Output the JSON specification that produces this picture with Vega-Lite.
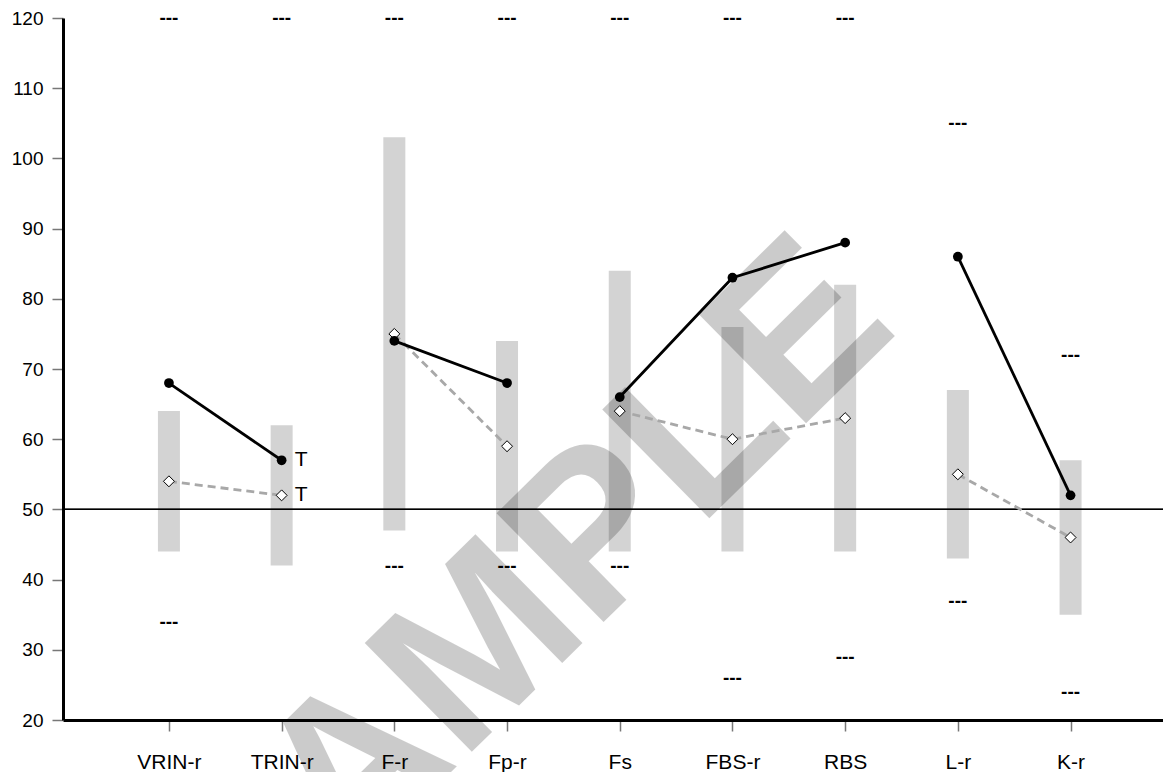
{
  "$schema": "https://vega.github.io/schema/vega-lite/v6.json",
  "width": 1100,
  "height": 702,
  "autosize": {"type": "none"},
  "padding": {"left": 63, "top": 18, "right": 0, "bottom": 52},
  "background": "white",
  "config": {
    "view": {"stroke": null},
    "font": "Liberation Sans",
    "axis": {"grid": false, "labelFont": "Liberation Sans", "labelColor": "black", "title": null}
  },
  "datasets": {
    "scales": [
      {"scale": "VRIN-r", "score": 68, "mean": 54, "lo": 44, "hi": 64, "topDash": 120, "botDash": 34, "seg": 1, "t": null},
      {"scale": "TRIN-r", "score": 57, "mean": 52, "lo": 42, "hi": 62, "topDash": 120, "botDash": null, "seg": 1, "t": "T"},
      {"scale": "F-r", "score": 74, "mean": 75, "lo": 47, "hi": 103, "topDash": 120, "botDash": 42, "seg": 2, "t": null},
      {"scale": "Fp-r", "score": 68, "mean": 59, "lo": 44, "hi": 74, "topDash": 120, "botDash": 42, "seg": 2, "t": null},
      {"scale": "Fs", "score": 66, "mean": 64, "lo": 44, "hi": 84, "topDash": 120, "botDash": 42, "seg": 3, "t": null},
      {"scale": "FBS-r", "score": 83, "mean": 60, "lo": 44, "hi": 76, "topDash": 120, "botDash": 26, "seg": 3, "t": null},
      {"scale": "RBS", "score": 88, "mean": 63, "lo": 44, "hi": 82, "topDash": 120, "botDash": 29, "seg": 3, "t": null},
      {"scale": "L-r", "score": 86, "mean": 55, "lo": 43, "hi": 67, "topDash": 105, "botDash": 37, "seg": 4, "t": null},
      {"scale": "K-r", "score": 52, "mean": 46, "lo": 35, "hi": 57, "topDash": 72, "botDash": 24, "seg": 4, "t": null}
    ],
    "watermark": [
      {"scale": "Fp-r", "y": 33.8, "label": "SAMPLE"}
    ]
  },
  "data": {"name": "scales"},
  "encoding": {
    "x": {
      "field": "scale",
      "type": "nominal",
      "sort": ["VRIN-r", "TRIN-r", "F-r", "Fp-r", "Fs", "FBS-r", "RBS", "L-r", "K-r"],
      "scale": {"type": "point", "padding": 0.88, "align": 0.534},
      "axis": {
        "labelAngle": 0,
        "labelFontSize": 21,
        "labelPadding": 20,
        "domainColor": "black",
        "domainWidth": 3,
        "tickColor": "#777777",
        "tickSize": 11,
        "tickWidth": 1.5
      }
    }
  },
  "layer": [
    {
      "mark": {"type": "bar", "width": 22, "color": "#d3d3d3"},
      "encoding": {
        "y": {
          "field": "lo",
          "type": "quantitative",
          "scale": {"domain": [20, 120], "nice": false, "zero": false},
          "axis": {
            "values": [20, 30, 40, 50, 60, 70, 80, 90, 100, 110, 120],
            "labelFontSize": 19,
            "labelPadding": 9,
            "domainColor": "black",
            "domainWidth": 3,
            "tickColor": "#777777",
            "tickSize": 11,
            "tickWidth": 1.5
          }
        },
        "y2": {"field": "hi"}
      }
    },
    {
      "data": {"name": "watermark"},
      "mark": {"type": "text", "fontSize": 222, "fontWeight": "bold", "angle": -44.5, "align": "center", "baseline": "middle", "color": "black", "opacity": 0.2, "dx": 24},
      "encoding": {
        "y": {"field": "y", "type": "quantitative"},
        "text": {"field": "label"}
      }
    },
    {
      "mark": {"type": "rule", "color": "black", "strokeWidth": 1},
      "encoding": {"y": {"datum": 50}, "x": null}
    },
    {
      "mark": {"type": "text", "text": "---", "fontSize": 19, "fontWeight": "bold", "baseline": "middle", "align": "center", "color": "black"},
      "encoding": {"y": {"field": "topDash", "type": "quantitative"}}
    },
    {
      "transform": [{"filter": "datum.botDash != null"}],
      "mark": {"type": "text", "text": "---", "fontSize": 19, "fontWeight": "bold", "baseline": "middle", "align": "center", "color": "black"},
      "encoding": {"y": {"field": "botDash", "type": "quantitative"}}
    },
    {
      "mark": {"type": "line", "color": "#a8a8a8", "strokeWidth": 2.8, "strokeDash": [8, 5]},
      "encoding": {
        "y": {"field": "mean", "type": "quantitative"},
        "detail": {"field": "seg", "type": "nominal"}
      }
    },
    {
      "mark": {"type": "line", "color": "black", "strokeWidth": 2.8},
      "encoding": {
        "y": {"field": "score", "type": "quantitative"},
        "detail": {"field": "seg", "type": "nominal"}
      }
    },
    {
      "mark": {"type": "point", "shape": "diamond", "size": 120, "filled": true, "fill": "white", "stroke": "black", "strokeWidth": 1, "opacity": 1},
      "encoding": {"y": {"field": "mean", "type": "quantitative"}}
    },
    {
      "mark": {"type": "point", "shape": "circle", "size": 95, "filled": true, "color": "black", "opacity": 1},
      "encoding": {"y": {"field": "score", "type": "quantitative"}}
    },
    {
      "transform": [{"filter": "datum.t != null"}],
      "mark": {"type": "text", "fontSize": 21, "align": "left", "baseline": "middle", "dx": 13, "color": "black"},
      "encoding": {"y": {"field": "score", "type": "quantitative"}, "text": {"field": "t"}}
    },
    {
      "transform": [{"filter": "datum.t != null"}],
      "mark": {"type": "text", "fontSize": 21, "align": "left", "baseline": "middle", "dx": 13, "color": "black"},
      "encoding": {"y": {"field": "mean", "type": "quantitative"}, "text": {"field": "t"}}
    }
  ]
}
